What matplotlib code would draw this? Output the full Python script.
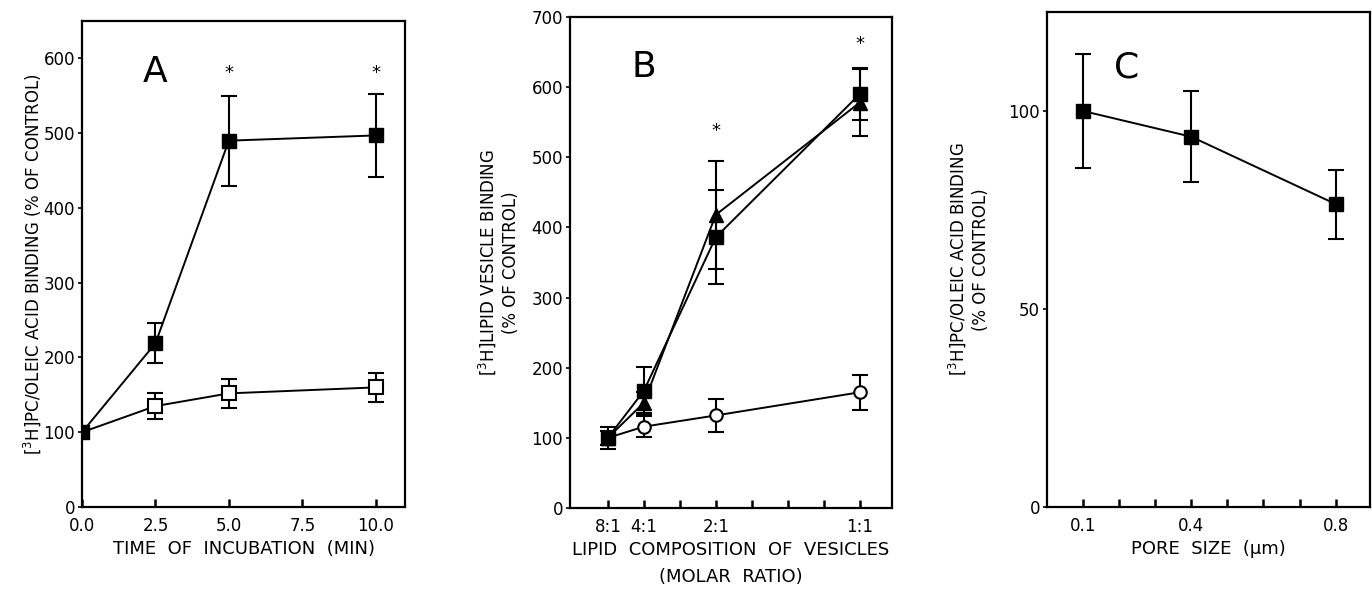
import matplotlib
matplotlib.use("Agg")
import matplotlib.pyplot as plt

# Panel A: time of incubation
a_time = [0.0, 2.5, 5.0, 10.0]
a_filled = [100, 219, 490, 497]
a_filled_err = [0, 27, 60, 56]
a_open = [100, 135, 152, 160]
a_open_err = [0, 17, 19, 19]
a_star_x = [5.0, 10.0]
a_star_y = [580, 580]

# Panel B: lipid composition (position = 8 / second part of ratio)
b_pos = [1, 2, 4, 8]
b_labels = ["8:1", "4:1", "2:1", "1:1"]
b_square = [100, 167, 386, 590]
b_square_err = [16, 34, 67, 37]
b_triangle = [100, 150, 418, 578]
b_triangle_err = [10, 15, 77, 48]
b_circle = [100, 116, 132, 165]
b_circle_err = [0, 15, 24, 25]
b_star_x = [4, 8]
b_star_y = [538, 661]

# Panel C: pore size
c_pore = [0.1, 0.4, 0.8]
c_binding = [100, 93.5, 76.5]
c_err = [14.3, 11.5, 8.7]

plt.rcParams["font.family"] = ["DejaVu Sans"]
fig = plt.figure(figsize=(13.72, 5.91), dpi=100)

ax_a = fig.add_axes([0.0598, 0.1421, 0.2354, 0.8223])
ax_b = fig.add_axes([0.4155, 0.1404, 0.2347, 0.8308])
ax_c = fig.add_axes([0.7631, 0.1421, 0.2354, 0.8376])

eb = dict(color="black", ecolor="black", elinewidth=1.5, capsize=5.5,
          capthick=1.5, linewidth=1.4)


def style(ax):
    for s in ax.spines.values():
        s.set_linewidth(1.6)
    ax.tick_params(axis="x", direction="in", length=6, width=1.8,
                   labelsize=12, pad=7)
    ax.tick_params(axis="y", direction="out", length=3, width=1.2,
                   labelsize=12, pad=2)


# A
ax_a.errorbar(a_time, a_filled, yerr=a_filled_err, marker="s", ms=10,
              mfc="black", **eb)
ax_a.errorbar(a_time[1:], a_open[1:], yerr=a_open_err[1:], marker="s",
              ms=10, mfc="white", mew=1.5, zorder=3, **eb)
ax_a.plot(a_time[:2], a_open[:2], color="black", lw=1.4)
for x, y in zip(a_star_x, a_star_y):
    ax_a.text(x, y, "*", ha="center", va="center", fontsize=13)
ax_a.text(2.5, 582, "A", ha="center", va="center", fontsize=26)
ax_a.set_xlim(0, 11)
ax_a.set_ylim(0, 650)
ax_a.set_xticks([0, 2.5, 5, 7.5, 10])
ax_a.set_xticklabels(["0.0", "2.5", "5.0", "7.5", "10.0"])
ax_a.set_yticks(range(0, 700, 100))
ax_a.set_xlabel("TIME  OF  INCUBATION  (MIN)", fontsize=13, labelpad=4)
ax_a.set_ylabel("[$^3$H]PC/OLEIC ACID BINDING (% OF CONTROL)", fontsize=12,
                labelpad=0)
style(ax_a)

# B
ax_b.errorbar(b_pos, b_triangle, yerr=b_triangle_err, marker="^", ms=10,
              mfc="black", **eb)
ax_b.errorbar(b_pos, b_square, yerr=b_square_err, marker="s", ms=10,
              mfc="black", **eb)
ax_b.errorbar(b_pos[1:], b_circle[1:], yerr=b_circle_err[1:], marker="o",
              ms=9, mfc="white", mew=1.5, zorder=3, **eb)
ax_b.plot(b_pos[:2], b_circle[:2], color="black", lw=1.4)
for x, y in zip(b_star_x, b_star_y):
    ax_b.text(x, y, "*", ha="center", va="center", fontsize=13)
ax_b.text(2, 629, "B", ha="center", va="center", fontsize=26)
ax_b.set_xlim(-0.05, 8.9)
ax_b.set_ylim(0, 700)
ax_b.set_xticks(range(1, 9))
ax_b.set_xticklabels([dict(zip(b_pos, b_labels)).get(p, "") for p in range(1, 9)])
ax_b.set_yticks(range(0, 800, 100))
ax_b.set_xlabel("LIPID  COMPOSITION  OF  VESICLES\n(MOLAR  RATIO)", fontsize=13,
                labelpad=4, linespacing=1.6)
ax_b.set_ylabel("[$^3$H]LIPID VESICLE BINDING\n(% OF CONTROL)", fontsize=12,
                labelpad=8, linespacing=1.3)
style(ax_b)

# C
ax_c.errorbar(c_pore, c_binding, yerr=c_err, marker="s", ms=10,
              mfc="black", **eb)
ax_c.text(0.22, 111, "C", ha="center", va="center", fontsize=26)
ax_c.set_xlim(0, 0.895)
ax_c.set_ylim(0, 125)
ax_c.set_xticks([0.1, 0.2, 0.3, 0.4, 0.5, 0.6, 0.7, 0.8])
ax_c.set_xticklabels(["0.1", "", "", "0.4", "", "", "", "0.8"])
ax_c.set_yticks([0, 50, 100])
ax_c.set_xlabel("PORE  SIZE  (\u03bcm)", fontsize=13, labelpad=4)
ax_c.set_ylabel("[$^3$H]PC/OLEIC ACID BINDING\n(% OF CONTROL)", fontsize=12,
                labelpad=13, linespacing=1.3)
style(ax_c)

fig.savefig("out.png", dpi=100)
